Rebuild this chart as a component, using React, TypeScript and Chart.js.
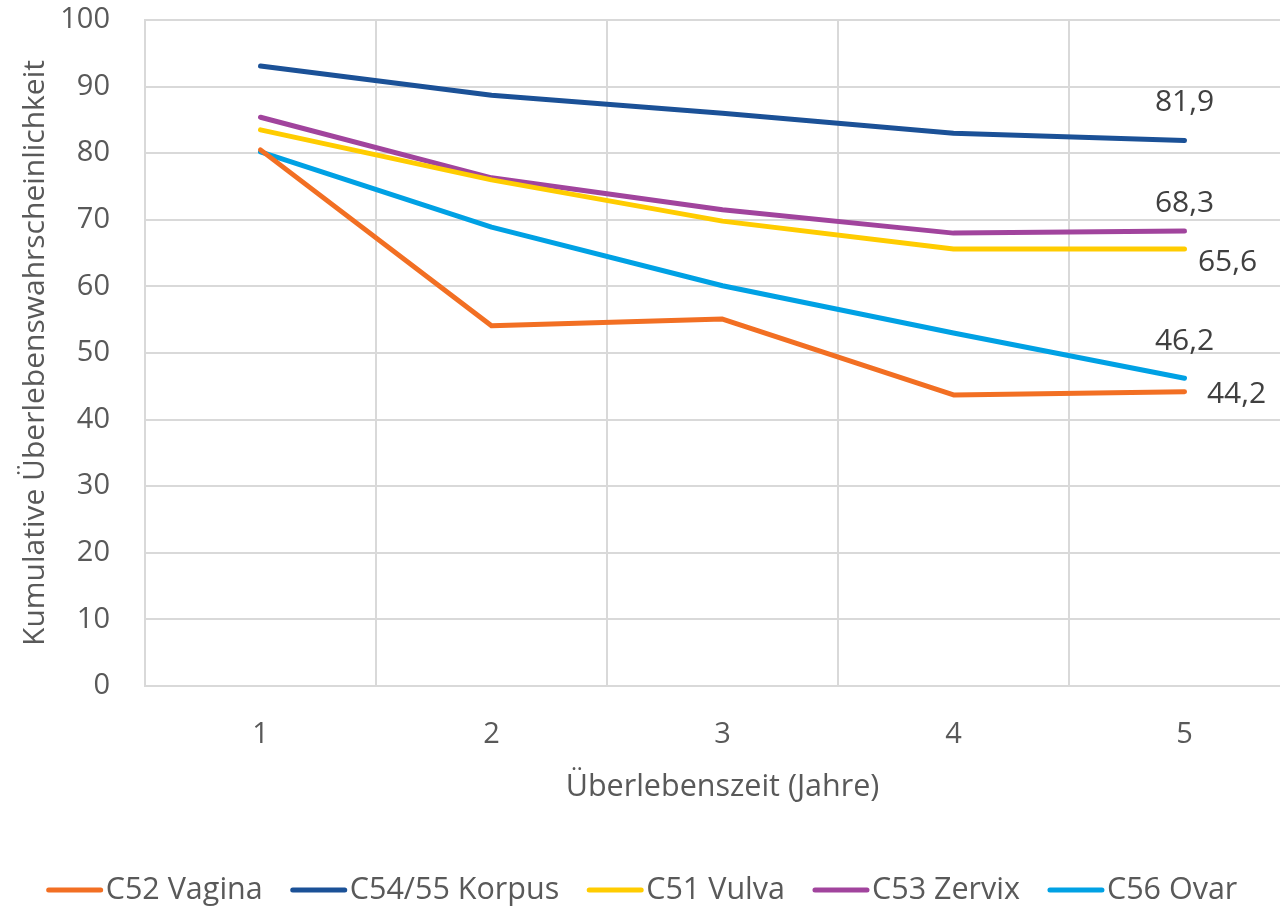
import React, { useEffect, useRef } from "react";
import { Chart, registerables } from "chart.js";

Chart.register(...registerables);

const categories = ["1", "2", "3", "4", "5"];
const seriesNames = ["C52 Vagina", "C54/55 Korpus", "C51 Vulva", "C53 Zervix", "C56 Ovar"];
const vagina = [80.5, 54.1, 55.1, 43.7, 44.2];
const korpus = [93.1, 88.7, 86.0, 83.0, 81.9];
const vulva = [83.5, 76.0, 69.8, 65.6, 65.6];
const zervix = [85.4, 76.3, 71.5, 68.0, 68.3];
const ovar = [80.2, 68.9, 60.1, 53.0, 46.2];
const seriesColors = ["#F26F23", "#1B5197", "#FFCC00", "#A1449D", "#00A1E4"];
const yTitle = "Kumulative Überlebenswahrscheinlichkeit";
const xTitle = "Überlebenszeit (Jahre)";
// label placement for last value: [dx, dy]
const labelOffsets: [number, number][] = [
  [52, 3],
  [0, -38],
  [43, 13],
  [0, -28],
  [0, -37],
];

const FONT = "'Open Sans', sans-serif";
const TEXT = "#595959";

const lastLabelPlugin = {
  id: "lastLabels",
  afterDatasetsDraw(chart: any) {
    const ctx = chart.ctx;
    ctx.save();
    ctx.font = `30px ${FONT}`;
    ctx.fillStyle = "#404040";
    ctx.textAlign = "center";
    ctx.textBaseline = "middle";
    chart.data.datasets.forEach((ds: any, i: number) => {
      const meta = chart.getDatasetMeta(i);
      const n = ds.data.length - 1;
      const pt = meta.data[n];
      const v = ds.data[n];
      const txt = v.toFixed(1).replace(".", ",");
      ctx.fillText(txt, pt.x + labelOffsets[i][0], pt.y + labelOffsets[i][1]);
    });
    ctx.restore();
  },
};

const legendPlugin = {
  id: "customLegend",
  afterDraw(chart: any) {
    const ctx = chart.ctx;
    ctx.save();
    ctx.font = `30.5px ${FONT}`;
    const lineW = 56;
    const gapAfterLine = 3;
    const gapItems = 28;
    const widths = seriesNames.map((s) => ctx.measureText(s).width);
    const total =
      widths.reduce((a, b) => a + b, 0) + seriesNames.length * (lineW + gapAfterLine) + gapItems * (seriesNames.length - 1);
    let x = 642 - total / 2;
    const y = 890;
    seriesNames.forEach((name, i) => {
      ctx.strokeStyle = seriesColors[i];
      ctx.lineWidth = 5;
      ctx.lineCap = "round";
      ctx.beginPath();
      ctx.moveTo(x + 2, y);
      ctx.lineTo(x + lineW - 2, y);
      ctx.stroke();
      x += lineW + gapAfterLine;
      ctx.fillStyle = TEXT;
      ctx.textAlign = "left";
      ctx.textBaseline = "middle";
      ctx.fillText(name, x, y);
      x += widths[i] + gapItems;
    });
    ctx.restore();
  },
};

export default function App() {
  const ref = useRef<HTMLCanvasElement | null>(null);
  useEffect(() => {
    if (!ref.current) return;
    const data = [vagina, korpus, vulva, zervix, ovar];
    const chart = new Chart(ref.current, {
      type: "line",
      data: {
        labels: categories,
        datasets: seriesNames.map((name, i) => ({
          label: name,
          data: data[i],
          borderColor: seriesColors[i],
          backgroundColor: seriesColors[i],
          borderWidth: 5,
          pointRadius: 0,
          tension: 0,
          borderCapStyle: "round" as const,
          borderJoinStyle: "round" as const,
        })),
      },
      options: {
        animation: false,
        responsive: false,
        maintainAspectRatio: false,
        layout: { padding: { top: 0, left: 0, right: 0, bottom: 104 } },
        plugins: {
          legend: { display: false },
          tooltip: { enabled: false },
        },
        scales: {
          x: {
            offset: true,
            grid: { offset: true, color: "#D9D9D9", lineWidth: 2, drawTicks: false },
            border: { color: "#D9D9D9", width: 2 },
            ticks: { color: TEXT, font: { family: FONT, size: 29 }, padding: 31 },
            title: {
              display: true,
              text: xTitle,
              color: TEXT,
              font: { family: FONT, size: 30.5 },
              padding: { top: 10, bottom: 0 },
            },
            afterFit(scale: any) {
              scale.height = 120;
            },
          },
          y: {
            min: 0,
            max: 100,
            ticks: { stepSize: 10, color: TEXT, font: { family: FONT, size: 29 }, padding: 35 },
            grid: { color: "#D9D9D9", lineWidth: 2, drawTicks: false },
            border: { display: true, color: "#D9D9D9", width: 2 },
            title: {
              display: true,
              text: yTitle,
              color: TEXT,
              font: { family: FONT, size: 30 },
              padding: { top: 17, bottom: 0 },
            },
            afterFit(scale: any) {
              scale.width = 145;
              scale.paddingTop = 20;
              scale.paddingBottom = 0;
            },
          },
        },
      },
      plugins: [lastLabelPlugin, legendPlugin],
    });
    return () => chart.destroy();
  }, []);
  return (
    <div style={{ position: "absolute", left: 0, top: 0, width: 1280, height: 910, overflow: "hidden", background: "#fff" }}>
      <canvas ref={ref} width={1300} height={910} style={{ display: "block", width: 1300, height: 910 }} />
    </div>
  );
}
